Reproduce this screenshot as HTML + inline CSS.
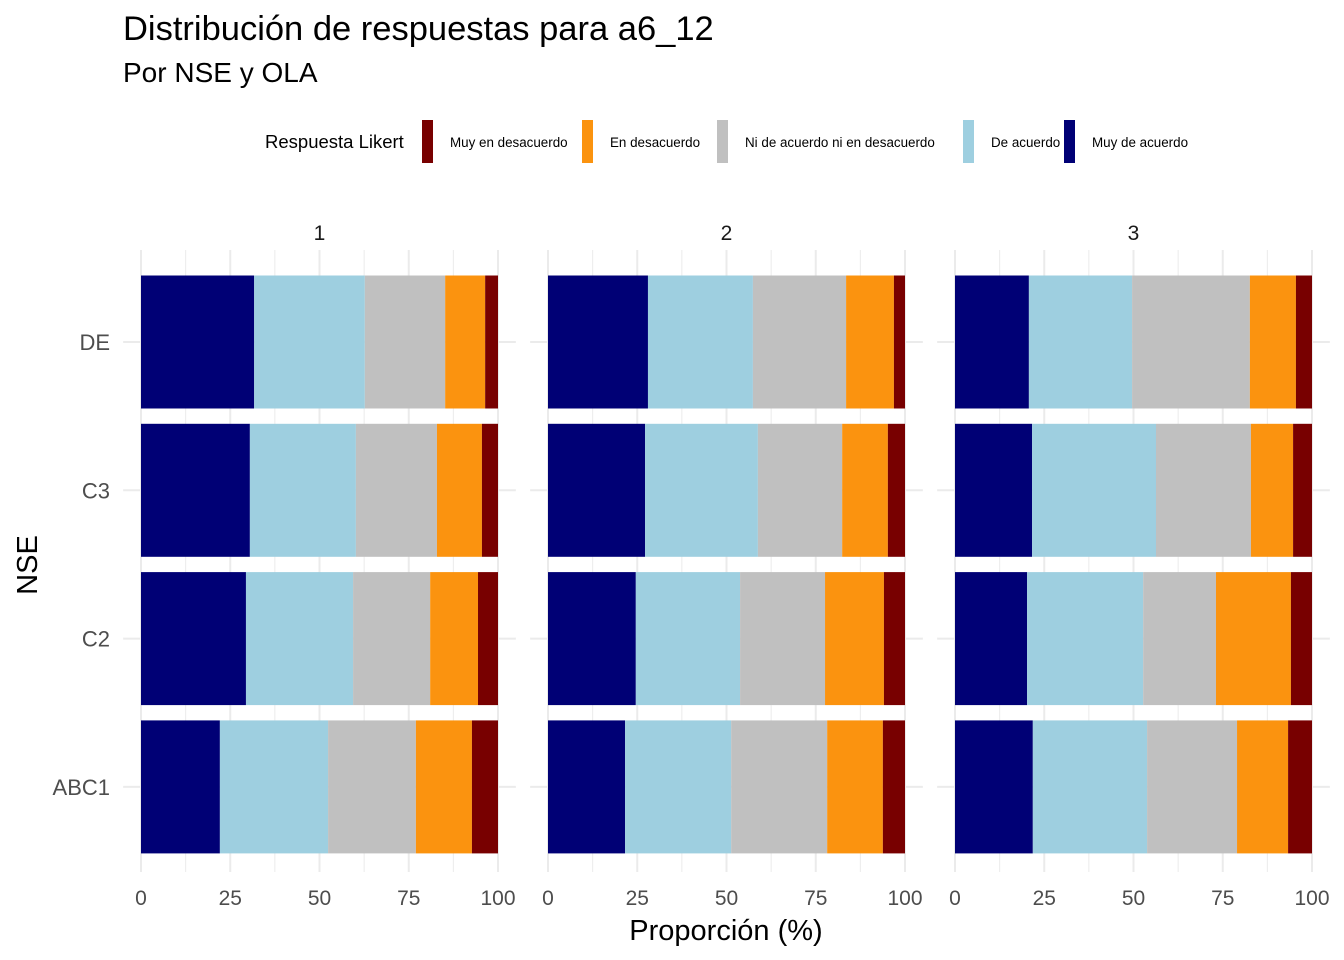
<!DOCTYPE html>
<html><head><meta charset="utf-8"><style>
body{margin:0;background:#fff;}
svg{display:block;font-family:"Liberation Sans",Arial,sans-serif;}
</style></head><body>
<svg id="chart" width="1344" height="960">
<text x="123" y="40" font-size="34.5" fill="#000">Distribución de respuestas para a6_12</text>
<text x="123" y="82" font-size="28" fill="#000">Por NSE y OLA</text>
<g id="legend">
<text x="265" y="148" font-size="18.5" fill="#000">Respuesta Likert</text>
</g>
<g id="plot"></g>
<text x="726" y="940" font-size="29" text-anchor="middle" fill="#000">Proporción (%)</text>
<text transform="translate(37,565) rotate(-90)" font-size="29" text-anchor="middle" fill="#000">NSE</text>
</svg>
<script>
const categories = ["DE","C3","C2","ABC1"];
const panels = ["1","2","3"];
const responses = ["Muy de acuerdo","De acuerdo","Ni de acuerdo ni en desacuerdo","En desacuerdo","Muy en desacuerdo"];
const colors = ["#000075","#9ecfe0","#c0c0c0","#fb930f","#780000"];
const legendOrder = [4,3,2,1,0];
const ticks = [0,25,50,75,100];
const ola1 = [[31.7,31.0,22.5,11.2,3.6],[30.5,29.7,22.7,12.6,4.5],[29.4,30.0,21.6,13.4,5.6],[22.1,30.3,24.6,15.7,7.3]];
const ola2 = [[28.0,29.4,26.1,13.4,3.1],[27.2,31.6,23.6,12.8,4.8],[24.6,29.2,23.8,16.5,5.9],[21.6,29.7,26.9,15.6,6.2]];
const ola3 = [[20.7,28.9,33.0,12.9,4.5],[21.6,34.7,26.6,11.8,5.3],[20.2,32.5,20.4,21.0,5.9],[21.8,32.0,25.2,14.3,6.7]];
const data = [ola1,ola2,ola3];

const NS="http://www.w3.org/2000/svg";
const plot=document.getElementById('plot');
function mk(tag,attrs,parent){const e=document.createElementNS(NS,tag);for(const k in attrs)e.setAttribute(k,attrs[k]);parent.appendChild(e);return e;}
const panelX0=[141,548,955], panelW=357;
const rowC0=342, rowStep=148.3, barH=133;
function yC(i){return rowC0+i*rowStep;}
panels.forEach((p,pi)=>{
  const x=v=>panelX0[pi]+v/100*panelW;
  const g=mk('g',{},plot);
  
  
  const left=x(-5), right=x(105);
  for(let t=0;t<=100;t+=12.5){
    const major=t%25===0;
    const l=mk('line',{x1:x(t),x2:x(t),y1:250,y2:872,stroke:'#ebebeb','stroke-width':major?2:1},g);
     
  }
  categories.forEach((c,ci)=>{
    const l=mk('line',{x1:left,x2:right,y1:yC(ci),y2:yC(ci),stroke:'#ebebeb','stroke-width':2},g);
     
  });
  const s=mk('text',{x:x(50),y:240,'font-size':21,'text-anchor':'middle',fill:'#1a1a1a'},g);
  s.textContent=p;
   
  categories.forEach((c,ci)=>{
    let cum=0;
    data[pi][ci].forEach((v,ri)=>{
      const r=mk('rect',{x:x(cum),y:yC(ci)-barH/2,width:x(cum+v)-x(cum),height:barH,fill:colors[ri]},g);
      
      
      cum+=v;
    });
  });
  ticks.forEach(t=>{
    const tx=mk('text',{x:x(t),y:905,'font-size':21,'text-anchor':'middle',fill:'#4d4d4d'},g);
    tx.textContent=t;
     
  });
});
categories.forEach((c,ci)=>{
  const t=mk('text',{x:110,y:yC(ci)+8,'font-size':22,'text-anchor':'end',fill:'#4d4d4d'},plot);
  t.textContent=c;
   
});
const leg=document.getElementById('legend');
const keyX=[422,582,717,963,1064];
legendOrder.forEach((ri,k)=>{
  const r=mk('rect',{x:keyX[k],y:120,width:11,height:43,fill:colors[ri]},leg);
   
  const t=mk('text',{x:keyX[k]+28,y:147,'font-size':13.4,fill:'#000'},leg);
  t.textContent=responses[ri];
   
});
</script>
</body></html>
